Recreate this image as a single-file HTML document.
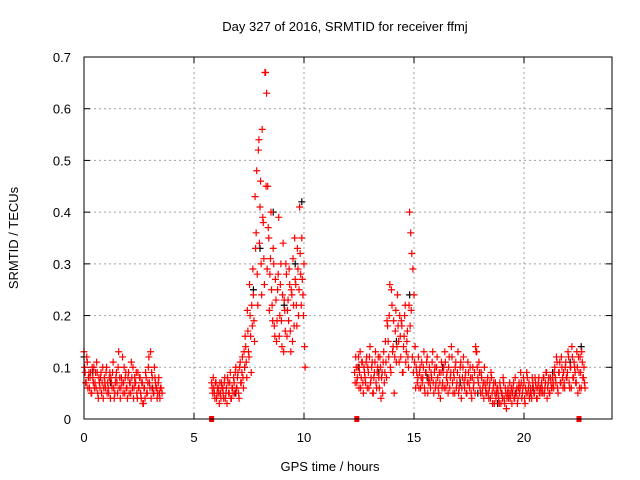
<!DOCTYPE html>
<html><head><meta charset="utf-8"><style>
html,body{margin:0;padding:0;background:#fff;}
svg{display:block;font-family:"Liberation Sans",sans-serif;}
</style></head><body>
<svg id="chart" width="640" height="480" viewBox="0 0 640 480">
<text x="345" y="31" font-size="13" text-anchor="middle">Day 327 of 2016, SRMTID for receiver ffmj</text>
<text x="330" y="471" font-size="13" text-anchor="middle">GPS time / hours</text>
<text x="18" y="238" font-size="13" text-anchor="middle" transform="rotate(-90 18 238)">SRMTID / TECUs</text>
<g id="grid"></g>
<g id="ticks"></g>
<g id="blk"></g>
<g id="red"></g>
<rect x="84" y="57" width="528" height="362" fill="none" stroke="#000" stroke-width="1"/>
</svg>
<script>
const xTicks=[0,5,10,15,20];
const yTicks=[0,0.1,0.2,0.3,0.4,0.5,0.6,0.7];
const yTickLabels=["0","0.1","0.2","0.3","0.4","0.5","0.6","0.7"];
const gapTimes=[5.8,12.4,22.5];
const segAStart=0, segAStep=0.05;
const segAValues=[0.13,0.09,0.07,0.11,0.08,0.06,0.09,0.05,0.08,0.10,0.07,0.06,0.09,0.04,0.07,0.08,0.05,0.10,0.06,0.07,0.09,0.05,0.06,0.08,0.04,0.07,0.09,0.06,0.05,0.08,0.07,0.10,0.06,0.04,0.08,0.12,0.07,0.05,0.09,0.06,0.08,0.05,0.07,0.11,0.06,0.04,0.08,0.07,0.05,0.09,0.06,0.08,0.04,0.07,0.03,0.06,0.09,0.05,0.07,0.12,0.06,0.04,0.08,0.05,0.10,0.07,0.06,0.05,0.08,0.04,0.06,0.05];
const segA2Start=0.025, segA2Step=0.05;
const segA2Values=[0.10,0.07,0.12,0.06,0.09,0.08,0.05,0.10,0.07,0.06,0.09,0.11,0.05,0.08,0.06,0.09,0.07,0.04,0.08,0.06,0.10,0.07,0.05,0.09,0.08,0.06,0.11,0.04,0.07,0.09,0.05,0.13,0.08,0.06,0.07,0.05,0.10,0.08,0.06,0.04,0.09,0.07,0.05,0.08,0.10,0.06,0.07,0.09,0.04,0.06,0.08,0.05,0.07,0.03,0.06,0.04,0.08,0.05,0.10,0.07,0.13,0.09,0.06,0.05,0.08,0.06,0.04,0.07,0.05,0.06];
const segBStart=5.8, segBStep=0.05;
const segBValues=[0.07,0.05,0.06,0.04,0.07,0.05,0.06,0.03,0.05,0.07,0.06,0.04,0.08,0.05,0.03,0.07,0.05,0.09,0.04,0.06,0.08,0.05,0.10,0.06,0.09,0.04,0.11,0.07,0.12,0.06,0.10,0.14,0.08,0.17,0.12,0.20,0.09,0.18,0.24,0.15,0.33,0.48,0.22,0.54,0.41,0.30,0.56,0.38,0.26,0.67,0.63,0.45,0.35,0.28,0.40,0.22,0.33,0.18,0.27,0.15,0.25,0.39,0.20,0.30,0.14,0.34,0.23,0.17,0.28,0.21,0.19,0.26,0.13,0.24,0.31,0.18,0.27,0.22,0.33,0.20,0.41,0.28,0.35,0.24,0.30,0.10];
const segB2Start=5.825, segB2Step=0.05;
const segB2Values=[0.06,0.08,0.05,0.07,0.04,0.06,0.05,0.07,0.04,0.06,0.05,0.07,0.04,0.06,0.08,0.05,0.07,0.04,0.06,0.05,0.07,0.09,0.06,0.08,0.05,0.10,0.07,0.09,0.08,0.13,0.16,0.11,0.21,0.13,0.26,0.16,0.22,0.29,0.19,0.43,0.36,0.28,0.52,0.34,0.46,0.24,0.39,0.31,0.67,0.45,0.29,0.37,0.21,0.31,0.25,0.19,0.30,0.16,0.23,0.19,0.28,0.16,0.26,0.19,0.24,0.13,0.21,0.30,0.16,0.23,0.29,0.17,0.25,0.15,0.22,0.35,0.26,0.18,0.29,0.25,0.32,0.22,0.27,0.20,0.14];
const segCStart=12.3, segCStep=0.05;
const segCValues=[0.09,0.12,0.07,0.10,0.06,0.13,0.08,0.11,0.05,0.09,0.07,0.12,0.10,0.06,0.14,0.08,0.11,0.05,0.09,0.13,0.06,0.10,0.08,0.12,0.04,0.09,0.11,0.07,0.15,0.08,0.18,0.12,0.26,0.09,0.22,0.14,0.05,0.17,0.11,0.24,0.15,0.20,0.12,0.18,0.09,0.16,0.22,0.13,0.17,0.10,0.40,0.36,0.32,0.29,0.24,0.14,0.10,0.07,0.12,0.09,0.06,0.11,0.08,0.13,0.05,0.09,0.12,0.07,0.10,0.06,0.08,0.13,0.05,0.10,0.07,0.12,0.06,0.09,0.04,0.11,0.07,0.10,0.13,0.06,0.09,0.05,0.12,0.08,0.14,0.07,0.09,0.05,0.11,0.07,0.13,0.06,0.10,0.04,0.08,0.12,0.06,0.09,0.05,0.11,0.07,0.10,0.05,0.08,0.06,0.09,0.14,0.13,0.08,0.11,0.06,0.09,0.05,0.07,0.10,0.06,0.05,0.08,0.04,0.07,0.09,0.05,0.06,0.03,0.07,0.05,0.06,0.04,0.07,0.03,0.05,0.08,0.04,0.06,0.02,0.05,0.04,0.07,0.05,0.03,0.06,0.04,0.08,0.05,0.03,0.06,0.05,0.09,0.04,0.06,0.07,0.03,0.05,0.08,0.06,0.04,0.06,0.04,0.07,0.05,0.08,0.06,0.04,0.07,0.05,0.06,0.07,0.05,0.08,0.06,0.09,0.04,0.07,0.05,0.08,0.06,0.08,0.06,0.10,0.07,0.11,0.05,0.09,0.07,0.12,0.08,0.09,0.06,0.11,0.08,0.13,0.07,0.10,0.06,0.12,0.08,0.10,0.07,0.13,0.05,0.09,0.12,0.06,0.11,0.08,0.07];
const segC2Start=12.325, segC2Step=0.05;
const segC2Values=[0.07,0.10,0.08,0.12,0.09,0.06,0.11,0.07,0.10,0.08,0.11,0.06,0.09,0.12,0.07,0.10,0.05,0.08,0.11,0.07,0.09,0.12,0.06,0.10,0.08,0.05,0.13,0.09,0.11,0.19,0.15,0.20,0.10,0.25,0.13,0.19,0.12,0.21,0.14,0.18,0.11,0.16,0.19,0.09,0.14,0.20,0.11,0.15,0.12,0.22,0.18,0.21,0.12,0.09,0.11,0.06,0.09,0.08,0.06,0.10,0.08,0.07,0.10,0.06,0.09,0.11,0.05,0.08,0.07,0.09,0.11,0.07,0.09,0.06,0.10,0.08,0.05,0.07,0.09,0.06,0.09,0.06,0.11,0.08,0.07,0.10,0.06,0.09,0.12,0.05,0.08,0.10,0.06,0.09,0.05,0.08,0.11,0.06,0.10,0.07,0.08,0.05,0.07,0.09,0.06,0.08,0.04,0.10,0.07,0.05,0.13,0.10,0.07,0.09,0.05,0.08,0.06,0.04,0.07,0.05,0.07,0.05,0.06,0.04,0.08,0.03,0.07,0.05,0.04,0.06,0.05,0.03,0.06,0.05,0.04,0.07,0.03,0.05,0.04,0.06,0.05,0.04,0.06,0.05,0.07,0.04,0.05,0.06,0.04,0.07,0.06,0.07,0.05,0.08,0.04,0.06,0.09,0.05,0.07,0.05,0.05,0.08,0.06,0.05,0.07,0.04,0.06,0.08,0.06,0.05,0.06,0.08,0.05,0.07,0.09,0.06,0.08,0.05,0.07,0.06,0.07,0.09,0.08,0.12,0.06,0.09,0.11,0.07,0.10,0.06,0.07,0.10,0.08,0.09,0.12,0.06,0.10,0.14,0.08,0.11,0.09,0.07,0.10,0.12,0.06,0.09,0.13,0.08,0.10,0.06];
const blackTimes=[0.0,0.4,1.2,2.3,3.1,6.3,6.9,7.3,7.7,8.0,8.6,9.1,9.6,9.9,12.5,13.4,14.2,14.8,15.6,16.3,17.1,17.9,18.8,19.6,20.4,21.3,22.1,22.6];
const blackValues=[0.12,0.09,0.07,0.08,0.06,0.06,0.05,0.10,0.25,0.33,0.40,0.22,0.30,0.42,0.10,0.09,0.15,0.24,0.08,0.10,0.07,0.05,0.03,0.05,0.06,0.09,0.11,0.14];

const X0=84,X1=612,Y0=419,Y1=57,XMAX=24,YMAX=0.7;
const sx=v=>X0+(X1-X0)*v/XMAX;
const sy=v=>Y0-(Y0-Y1)*v/YMAX;
const NS="http://www.w3.org/2000/svg";
function mk(tag,attrs,parent){const e=document.createElementNS(NS,tag);for(const k in attrs)e.setAttribute(k,attrs[k]);parent.appendChild(e);return e;}
const grid=document.getElementById('grid'),ticks=document.getElementById('ticks');
xTicks.forEach(t=>{const x=sx(t);
 if(t>0){const g=mk('line',{x1:x,y1:Y0,x2:x,y2:Y1,stroke:'#a0a0a0','stroke-dasharray':'2,3'},grid);
 
 }
 mk('line',{x1:x,y1:Y0,x2:x,y2:Y0-6,stroke:'#000'},ticks);
 mk('line',{x1:x,y1:Y1,x2:x,y2:Y1+6,stroke:'#000'},ticks);
 const l=mk('text',{x:x,y:442,'font-size':13,'text-anchor':'middle'},ticks);l.textContent=t;
 
 
});
yTicks.forEach((t,i)=>{const y=sy(t);
 if(t>0&&t<YMAX){const g=mk('line',{x1:X0,y1:y,x2:X1,y2:y,stroke:'#a0a0a0','stroke-dasharray':'2,3'},grid);
 
 }
 mk('line',{x1:X0,y1:y,x2:X0+6,y2:y,stroke:'#000'},ticks);
 mk('line',{x1:X1,y1:y,x2:X1-6,y2:y,stroke:'#000'},ticks);
 const l=mk('text',{x:71,y:y+5,'font-size':13,'text-anchor':'end'},ticks);l.textContent=yTickLabels[i];
 
 
});
function plus(g,x,y,c,name){const p=mk('path',{d:`M${x-3.5},${y}h7M${x},${y-3.5}v7`,stroke:c,'stroke-width':1.2,fill:'none'},g);
 
 }
const blk=document.getElementById('blk'),red=document.getElementById('red');
blackTimes.forEach((t,i)=>plus(blk,sx(t),sy(blackValues[i]),'#000','black-point'));
[[segAStart,segAStep,segAValues],[segA2Start,segA2Step,segA2Values],[segBStart,segBStep,segBValues],[segB2Start,segB2Step,segB2Values],[segCStart,segCStep,segCValues],[segC2Start,segC2Step,segC2Values]].forEach(([s,st,vals])=>{
 vals.forEach((v,i)=>plus(red,sx(s+i*st),sy(v),'#ff0000','red-point'));
});
gapTimes.forEach(t=>{const r=mk('rect',{x:sx(t)-2.5,y:Y0-3,width:5,height:6,fill:'#ff0000'},red);
 
 });
</script>
</body></html>
